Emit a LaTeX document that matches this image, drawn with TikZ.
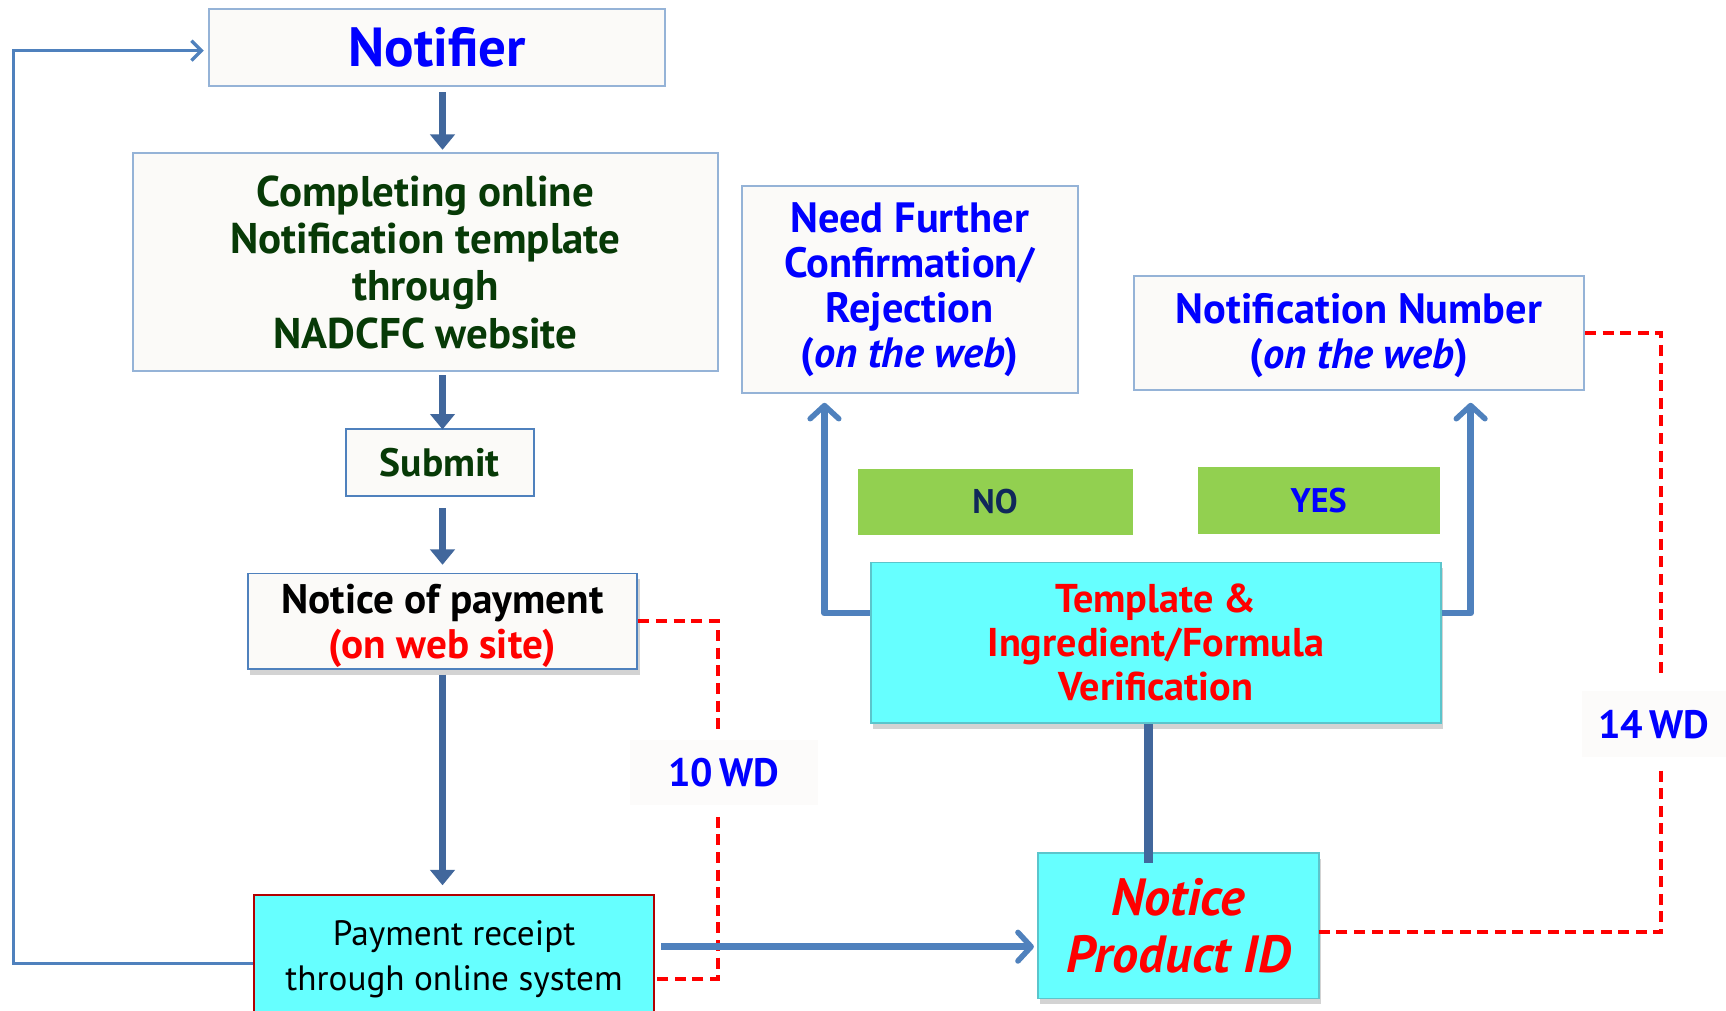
\documentclass[tikz,border=0pt]{standalone}
\usepackage{fontspec}
\setmainfont{PT Sans}
\usetikzlibrary{arrows.meta,shadows}
\definecolor{lightfill}{HTML}{FBFAF8}
\definecolor{lightborder}{HTML}{95B3D7}
\definecolor{midblue}{HTML}{4F81BD}
\definecolor{darkarrow}{HTML}{41679C}
\definecolor{cyanfill}{HTML}{66FFFF}
\definecolor{cyanborder}{HTML}{5BC5CC}
\definecolor{greenfill}{HTML}{92D050}
\definecolor{dgreen}{HTML}{073A07}
\definecolor{navy}{HTML}{10285A}
\begin{document}
\begin{tikzpicture}[x=1pt,y=-1pt,
  box/.style={draw=lightborder, line width=1.8pt, fill=lightfill, align=center, inner sep=0pt, font=\bfseries},
  midbox/.style={draw=midblue, line width=1.8pt, fill=lightfill, align=center, inner sep=0pt, font=\bfseries},
  cyanbox/.style={draw=cyanborder, line width=1.5pt, fill=cyanfill, align=center, inner sep=0pt},
  greenbox/.style={fill=greenfill, align=center, inner sep=0pt, font=\bfseries\fontsize{31}{34}\selectfont},
  labelbox/.style={fill=lightfill!70!white, align=center, inner sep=0pt, text=blue, font=\bfseries\fontsize{36}{40}\selectfont},
  shad/.style={drop shadow={opacity=0.35, shadow xshift=2pt, shadow yshift=-5pt}},
  bigarrow/.style={draw=darkarrow, line width=7pt, -{Triangle[width=22pt,length=14pt]}},
  darkline/.style={draw=darkarrow, line width=8pt},
  thinloop/.style={draw=midblue, line width=3pt, -{Straight Barb[length=9pt,width=18pt,line width=3pt]}},
  uparrow/.style={draw=midblue, line width=6pt, line join=round, -{Straight Barb[length=12pt,width=26pt,line width=5pt,round]}},
  reddash/.style={draw=red, line width=3.5pt, dash pattern=on 10pt off 6pt}
]
\useasboundingbox (0,0) rectangle (1568,918);

% nodes
\node[box, minimum width=414pt, minimum height=70pt, text=blue, font=\bfseries\fontsize{50}{54}\selectfont] (notifier) at (397,43) {Notifier};
\node[box, minimum width=531pt, minimum height=198pt, text=dgreen, font=\bfseries\fontsize{39}{43}\selectfont] (complete) at (386.5,238) {Completing online\\Notification template\\through\\NADCFC website};
\node[midbox, minimum width=171pt, minimum height=61pt, text=dgreen, font=\bfseries\fontsize{36}{40}\selectfont] (submit) at (399.5,420.5) {Submit};
\node[midbox, shad, minimum width=354pt, minimum height=87pt, font=\bfseries\fontsize{37.5}{41}\selectfont] (nop) at (402,564.5) {\raisebox{0pt}[\dimexpr\height+5pt\relax][\dimexpr\depth-5pt\relax]{\begin{tabular}{@{}c@{}}Notice of payment\\\textcolor{red}{(on web site)}\end{tabular}}};
\node[cyanbox, draw=red!70!black, minimum width=363pt, minimum height=117pt, font=\fontsize{32}{41}\selectfont] (pay) at (412.5,871.5) {Payment receipt\\through online system};
\node[box, minimum width=305pt, minimum height=188pt, text=blue, font=\bfseries\fontsize{38.5}{41}\selectfont] (need) at (826.5,263) {Need Further\\Confirmation/\\Rejection\\(\textit{on the web})};
\node[box, minimum width=409pt, minimum height=103pt, text=blue, font=\bfseries\fontsize{38.5}{41}\selectfont] (nnum) at (1234.5,302.5) {\raisebox{0pt}[\dimexpr\height+4pt\relax][\dimexpr\depth-4pt\relax]{\begin{tabular}{@{}c@{}}Notification Number\\(\textit{on the web})\end{tabular}}};
\node[greenbox, minimum width=250pt, minimum height=60pt, text=navy] (no) at (904,456) {NO};
\node[greenbox, minimum width=220pt, minimum height=61pt, text=blue] (yes) at (1198,454.5) {YES};
\node[cyanbox, shad, minimum width=518pt, minimum height=146pt, text=red, font=\bfseries\fontsize{36.5}{40}\selectfont] (templ) at (1050,584) {Template \&\\Ingredient/Formula\\Verification};
\node[cyanbox, shad, minimum width=255pt, minimum height=132pt, text=red, font=\bfseries\itshape\fontsize{47.5}{52}\selectfont] (pid) at (1070.5,841) {Notice\\Product ID};
\node[labelbox, minimum width=171pt, minimum height=59pt] (wd10) at (657.5,701.5) {10\,WD};
\node[labelbox, minimum width=131pt, minimum height=60pt] (wd14) at (1502.5,658) {14\,WD};

% coordinates
\coordinate (vx) at (402,0);
\coordinate (lx) at (12,0);
\coordinate (d10a) at (652,665);
\coordinate (d10b) at (652,742);
\coordinate (d10c) at (594,889);
\coordinate (d14a) at (1509,612);
\coordinate (d14b) at (1509,700);
\coordinate (d14c) at (1198,847);
\coordinate (pr) at ([xshift=6pt,yshift=11.5pt]pay.east);
\coordinate (mx) at (1043,0);
\coordinate (tl) at ([yshift=27pt]templ.west);
\coordinate (tr) at ([yshift=27pt]templ.east);
\coordinate (ax) at (749,0);
\coordinate (bx) at (1336,0);

% connectors
\draw[bigarrow, shorten <=5pt, shorten >=2pt] (notifier.south -| vx) -- (complete.north -| vx);
\draw[bigarrow, shorten <=3pt, shorten >=-1pt] (complete.south -| vx) -- (submit.north -| vx);
\draw[bigarrow, shorten <=10pt, shorten >=7pt] (submit.south -| vx) -- (nop.north -| vx);
\draw[bigarrow, shorten <=4pt, shorten >=8pt] (nop.south -| vx) -- (pay.north -| vx);
\draw[thinloop, shorten >=4pt] ([yshift=-4pt]pay.west) -| ([yshift=-3pt]lx |- notifier.west) -- ([yshift=-3pt]notifier.west);
\draw[reddash] (nop.east) -| (d10a);
\draw[reddash] (d10b) |- (d10c);
\draw[reddash] (nnum.east) -| (d14a);
\draw[reddash] (d14b) |- (d14c);
\draw[uparrow, shorten >=3pt] (pr) -- (pr -| pid.west);
\draw[darkline, shorten >=-10pt] (templ.south -| mx) -- (pid.north -| mx);
\draw[uparrow, shorten >=8pt] (tl) -| (need.south -| ax);
\draw[uparrow, shorten >=11pt] (tr) -| (nnum.south -| bx);
\end{tikzpicture}
\end{document}
